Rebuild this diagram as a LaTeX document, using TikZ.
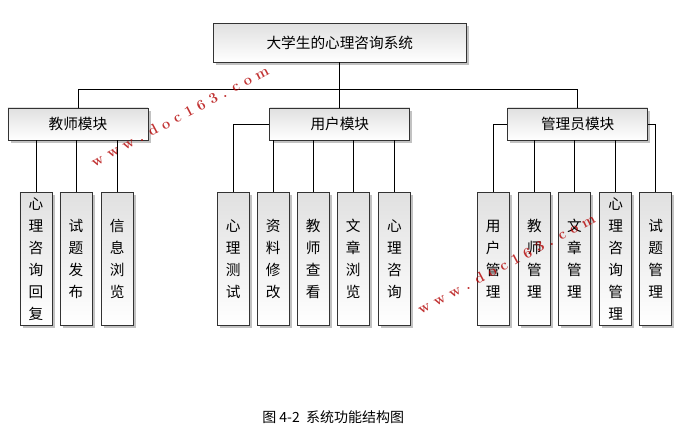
\documentclass[tikz,border=0pt]{standalone}
\usepackage{fontspec}
\newfontfamily\cjk{Noto Sans CJK SC}
\usetikzlibrary{shadows}
\begin{document}
\begin{tikzpicture}[x=1pt,y=-1pt,
  bx/.style={draw=black!80,line width=0.6pt,top color=black!12,bottom color=white,drop shadow={shadow xshift=2pt,shadow yshift=-2pt,fill=black!40,opacity=0.6},font=\cjk\fontsize{11}{13}\selectfont,inner sep=0pt},
  vb/.style={bx,minimum width=24pt,minimum height=100pt,align=center,font=\cjk\fontsize{11}{16.5}\selectfont},
  ln/.style={line width=0.6pt},
  wm/.style={text=red!70!black,font=\bfseries\fontsize{11}{11}\selectfont,rotate=28,opacity=0.8}]
\useasboundingbox (0,0) rectangle (514,335);
\node[bx,minimum width=190pt,minimum height=29pt] (top) at (255,32) {大学生的心理咨询系统};
\node[bx,minimum width=105pt,minimum height=24pt] (t) at (58.5,93) {教师模块};
\node[bx,minimum width=105pt,minimum height=24pt] (u) at (255,93) {用户模块};
\node[bx,minimum width=105pt,minimum height=24pt] (a) at (433.5,93) {管理员模块};
\coordinate (bus) at (255,67);
\draw[ln] (top.south) -- (bus);
\draw[ln] (t.north) |- (bus) -| (a.north);
\draw[ln] (bus) -- (u.north);
% teacher children
\node[vb,anchor=north] (t1) at (27,144) {心\\理\\咨\\询\\回\\复};
\node[vb,anchor=north] (t2) at (57,144) {试\\题\\发\\布};
\node[vb,anchor=north] (t3) at (88,144) {信\\息\\浏\\览};
\foreach \n in {t1,t2,t3} \draw[ln] (\n.north) -- (\n.north |- t.south);
% user children
\node[vb,anchor=north] (u1) at (175,144) {心\\理\\测\\试};
\node[vb,anchor=north] (u2) at (205,144) {资\\料\\修\\改};
\node[vb,anchor=north] (u3) at (235,144) {教\\师\\查\\看};
\node[vb,anchor=north] (u4) at (265,144) {文\\章\\浏\\览};
\node[vb,anchor=north] (u5) at (296,144) {心\\理\\咨\\询};
\draw[ln] (u1.north) |- (u.west);
\foreach \n in {u2,u3,u4,u5} \draw[ln] (\n.north) -- (\n.north |- u.south);
% admin children
\node[vb,anchor=north] (a1) at (370,144) {用\\户\\管\\理};
\node[vb,anchor=north] (a2) at (401,144) {教\\师\\管\\理};
\node[vb,anchor=north] (a3) at (431,144) {文\\章\\管\\理};
\node[vb,anchor=north] (a4) at (462,144) {心\\理\\咨\\询\\管\\理};
\node[vb,anchor=north] (a5) at (492,144) {试\\题\\管\\理};
\draw[ln] (a1.north) |- (a.west);
\draw[ln] (a5.north) |- (a.east);
\foreach \n in {a2,a3,a4} \draw[ln] (\n.north) -- (\n.north |- a.south);
% watermarks
\node[wm] (w1) at (135,87) {w w w . d o c 1 6 3 . c o m};
\node[wm] (w2) at (380,198) {w w w . d o c 1 6 3 . c o m};
\node[font=\cjk\fontsize{10.5}{12}\selectfont] (cap) at (250,313) {图 4-2\ \ 系统功能结构图};
\end{tikzpicture}
\end{document}
